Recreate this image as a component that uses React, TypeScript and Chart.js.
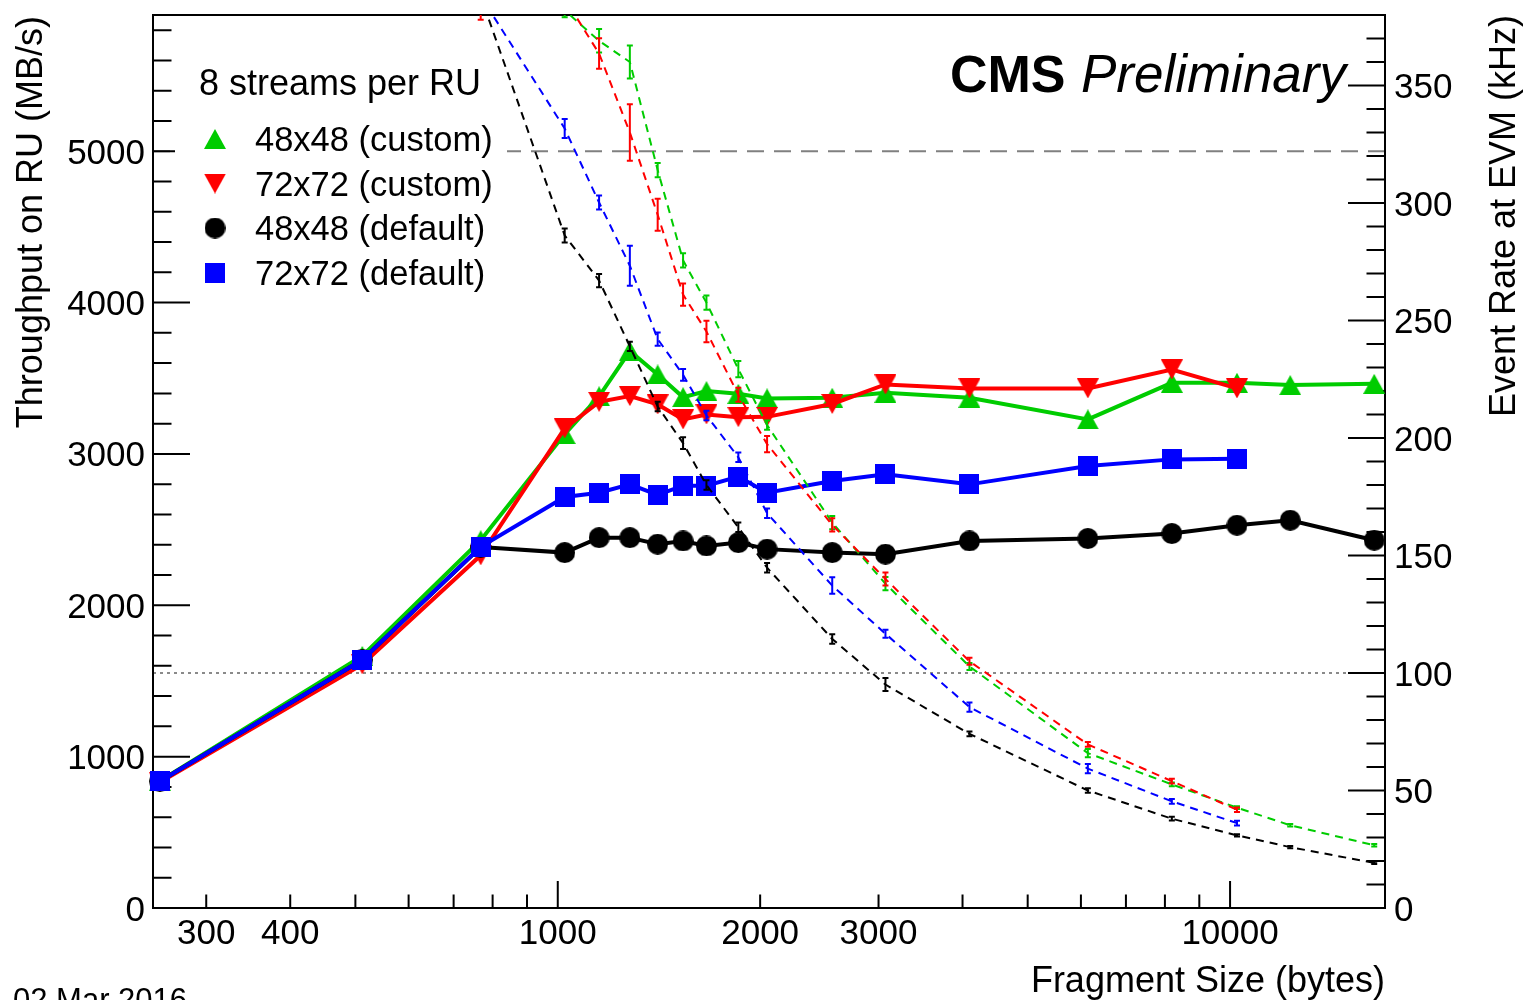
import React, { useEffect, useRef } from "react";
import { Chart, registerables } from "chart.js";

Chart.register(...registerables);

// ---------------- data ----------------
const fragmentSizes = [256, 512, 768, 1024, 1152, 1280, 1408, 1536, 1664, 1856, 2048, 2560, 3072, 4096, 6144, 8192, 10240, 12288, 16384];
const fragmentSizesShort = [256, 512, 768, 1024, 1152, 1280, 1408, 1536, 1664, 1856, 2048, 2560, 3072, 4096, 6144, 8192, 10240];

// throughput on RU (MB/s), left axis
const thr48Custom = [840, 1665, 2430, 3131, 3381, 3680, 3525, 3375, 3415, 3397, 3367, 3371, 3404, 3371, 3228, 3470, 3470, 3455, 3463];
const thr48CustomErr = [10, 15, 20, 15, 15, 25, 15, 15, 15, 20, 10, 15, 10, 10, 28, 20, 10, 10, 10];
const thr72Custom = [830, 1610, 2330, 3169, 3344, 3382, 3327, 3228, 3261, 3243, 3245, 3330, 3459, 3433, 3433, 3558, 3433];
const thr72CustomErr = [10, 15, 30, 15, 27, 42, 22, 20, 15, 15, 10, 12, 10, 10, 10, 10, 10];
const thr48Default = [838, 1640, 2385, 2348, 2447, 2447, 2404, 2425, 2392, 2414, 2371, 2348, 2338, 2425, 2441, 2474, 2529, 2562, 2430];
const thr48DefaultErr = [5, 10, 10, 10, 10, 10, 10, 10, 22, 10, 10, 10, 26, 10, 10, 10, 10, 10, 10];
const thr72Default = [838, 1640, 2386, 2716, 2744, 2799, 2729, 2790, 2790, 2850, 2744, 2821, 2865, 2799, 2920, 2964, 2968];
const thr72DefaultErr = [5, 10, 10, 10, 10, 31, 10, 10, 10, 10, 10, 20, 10, 10, 28, 10, 10];

// event rate at EVM (kHz), right axis
const rate48Custom = [409, 405, 394, 382, 369, 360, 314, 275.6, 257.6, 229.3, 205.5, 164, 138, 102.8, 65.9, 52.6, 42.7, 35.2, 26.7];
const rate48CustomErr = [3, 3, 3, 3, 5, 7, 3, 3, 3, 3.5, 2, 2.8, 2.8, 1.5, 1.8, 0.8, 0.6, 0.5, 0.5];
const rate72Custom = [405, 393, 382, 387, 363.6, 330, 295, 261, 245.3, 218.4, 197.4, 163, 140, 105, 69.6, 54.0, 41.8];
const rate72CustomErr = [3, 3, 4, 3, 6.5, 12, 6.8, 4.7, 4.6, 3, 3.5, 2.8, 2.8, 1.5, 1, 1, 1];
const rate48Default = [409, 400, 388, 286.2, 267, 239, 213.4, 197.8, 180, 162, 144.8, 114.5, 95.1, 74.1, 50.0, 38.0, 30.9, 25.9, 19.2];
const rate48DefaultErr = [2, 2, 2, 3, 2.8, 2, 2, 2.5, 2, 2, 2, 2, 2.8, 1, 1, 0.8, 0.5, 0.5, 0.5];
const rate72Default = [409, 400, 388, 331.7, 300.2, 273.3, 242.1, 226.9, 209.6, 191.8, 168, 137.2, 116.7, 85.5, 59.3, 45.4, 36.1];
const rate72DefaultErr = [2, 2, 2, 4, 3, 8.5, 2.8, 2.5, 2, 2, 2, 3.5, 1.7, 2, 2, 1, 1];

const legendTitle = "8 streams per RU";
const legendLabels = ["48x48 (custom)", "72x72 (custom)", "48x48 (default)", "72x72 (default)"];

const xTickLabels = [300, 400, 1000, 2000, 3000, 10000];
const xMajorTicks = [1000, 10000];
const xMinorTicks = [300, 400, 500, 600, 700, 800, 900, 2000, 3000, 4000, 5000, 6000, 7000, 8000, 9000];
const leftTickLabels = [0, 1000, 2000, 3000, 4000, 5000];
const rightTickLabels = [0, 50, 100, 150, 200, 250, 300, 350];

const xTitle = "Fragment Size (bytes)";
const yTitle = "Throughput on RU (MB/s)";
const y2Title = "Event Rate at EVM (kHz)";
const dateText = "02 Mar 2016";

const refThroughput = 5000; // dashed gray line (left axis)
const refRate = 100; // dotted gray line (right axis)

const GREEN = "#00cc00";
const RED = "#ff0000";
const BLACK = "#000000";
const BLUE = "#0000ff";
const FONT = '"Liberation Sans", Arial, Helvetica, sans-serif';

function range(a: number, b: number, step: number) {
  const out: number[] = [];
  for (let v = a; v <= b + 1e-9; v += step) out.push(v);
  return out;
}

function makeMarker(shape: string, color: string): HTMLCanvasElement {
  const c = document.createElement("canvas");
  let w = 22, h = 20;
  if (shape === "circle") { w = 21; h = 21; }
  if (shape === "square") { w = 20; h = 20; }
  c.width = w; c.height = h;
  const g = c.getContext("2d")!;
  g.fillStyle = color;
  g.beginPath();
  if (shape === "up") { g.moveTo(w / 2, 0); g.lineTo(w, h); g.lineTo(0, h); }
  else if (shape === "down") { g.moveTo(0, 0); g.lineTo(w, 0); g.lineTo(w / 2, h); }
  else if (shape === "circle") { g.arc(w / 2, h / 2, w / 2, 0, Math.PI * 2); }
  else { g.rect(0, 0, w, h); }
  g.closePath();
  g.fill();
  return c;
}

export default function App() {
  const ref = useRef<HTMLCanvasElement>(null);

  useEffect(() => {
    const canvas = ref.current!;
    const mk = {
      g: makeMarker("up", GREEN),
      r: makeMarker("down", RED),
      k: makeMarker("circle", BLACK),
      b: makeMarker("square", BLUE),
    };

    type Def = { sizes: number[]; values: number[]; errors: number[]; color: string; axis: string; kind: string; marker?: HTMLCanvasElement; order: number };
    const defs: Def[] = [
      { sizes: fragmentSizes, values: rate48Custom, errors: rate48CustomErr, color: GREEN, axis: "y2", kind: "rate", order: 3 },
      { sizes: fragmentSizesShort, values: rate72Custom, errors: rate72CustomErr, color: RED, axis: "y2", kind: "rate", order: 2 },
      { sizes: fragmentSizes, values: rate48Default, errors: rate48DefaultErr, color: BLACK, axis: "y2", kind: "rate", order: 1 },
      { sizes: fragmentSizesShort, values: rate72Default, errors: rate72DefaultErr, color: BLUE, axis: "y2", kind: "rate", order: 0 },
      { sizes: fragmentSizes, values: thr48Custom, errors: thr48CustomErr, color: GREEN, axis: "y", kind: "thr", marker: mk.g, order: 7 },
      { sizes: fragmentSizesShort, values: thr72Custom, errors: thr72CustomErr, color: RED, axis: "y", kind: "thr", marker: mk.r, order: 6 },
      { sizes: fragmentSizes, values: thr48Default, errors: thr48DefaultErr, color: BLACK, axis: "y", kind: "thr", marker: mk.k, order: 5 },
      { sizes: fragmentSizesShort, values: thr72Default, errors: thr72DefaultErr, color: BLUE, axis: "y", kind: "thr", marker: mk.b, order: 4 },
    ];

    const datasets = defs.map((d) => {
      const data = d.sizes.map((s, i) => ({ x: s, y: d.values[i] }));
      if (d.kind === "rate") {
        return {
          data, yAxisID: "y2", borderColor: d.color, borderWidth: 2, borderDash: [8, 6],
          pointRadius: 0, pointHoverRadius: 0, tension: 0, clip: 0, order: d.order, fill: false,
        };
      }
      return {
        data, yAxisID: "y", borderColor: d.color, backgroundColor: d.color, borderWidth: 4,
        pointStyle: d.marker, pointRadius: 11, pointHoverRadius: 11, tension: 0, clip: false as any,
        order: d.order, fill: false,
      };
    });

    const plugin = {
      id: "rootStyle",
      beforeDatasetsDraw(chart: any) {
        const { ctx, chartArea: a, scales } = chart;
        ctx.save();
        // reference lines
        ctx.strokeStyle = "#808080";
        ctx.lineWidth = 2;
        ctx.setLineDash([17, 10]);
        const yRef = scales.y.getPixelForValue(refThroughput);
        ctx.beginPath(); ctx.moveTo(a.left, yRef); ctx.lineTo(a.right, yRef); ctx.stroke();
        ctx.setLineDash([3, 4]);
        ctx.strokeStyle = "#8a8a8a";
        const yRate = scales.y2.getPixelForValue(refRate);
        ctx.beginPath(); ctx.moveTo(a.left, yRate); ctx.lineTo(a.right, yRate); ctx.stroke();
        ctx.setLineDash([]);

        // ticks
        ctx.strokeStyle = "#000";
        ctx.lineWidth = 2;
        ctx.beginPath();
        range(0, 5800, 200).forEach((v) => {
          const y = scales.y.getPixelForValue(v);
          const len = v % 1000 === 0 ? 37 : 18.5;
          ctx.moveTo(a.left, y); ctx.lineTo(a.left + len, y);
        });
        range(0, 370, 10).forEach((v) => {
          const y = scales.y2.getPixelForValue(v);
          const len = v % 50 === 0 ? 37 : 18.5;
          ctx.moveTo(a.right, y); ctx.lineTo(a.right - len, y);
        });
        xMinorTicks.forEach((v) => {
          const x = scales.x.getPixelForValue(v);
          ctx.moveTo(x, a.bottom); ctx.lineTo(x, a.bottom - 13.5);
        });
        xMajorTicks.forEach((v) => {
          const x = scales.x.getPixelForValue(v);
          ctx.moveTo(x, a.bottom); ctx.lineTo(x, a.bottom - 27);
        });
        ctx.stroke();
        // frame
        ctx.strokeRect(a.left, a.top, a.right - a.left, a.bottom - a.top);

        // tick labels
        ctx.fillStyle = "#000";
        ctx.font = `35px ${FONT}`;
        ctx.textBaseline = "alphabetic";
        ctx.textAlign = "right";
        leftTickLabels.forEach((v) => {
          ctx.fillText(String(v), 145, scales.y.getPixelForValue(v) + 12.5);
        });
        ctx.textAlign = "left";
        rightTickLabels.forEach((v) => {
          ctx.fillText(String(v), 1394, scales.y2.getPixelForValue(v) + 12.5);
        });
        ctx.textAlign = "center";
        xTickLabels.forEach((v) => {
          ctx.fillText(String(v), scales.x.getPixelForValue(v), 944);
        });

        // axis titles
        ctx.font = `36px ${FONT}`;
        ctx.textAlign = "right";
        ctx.fillText(xTitle, a.right, 992);
        ctx.save();
        ctx.translate(42, a.top + 1);
        ctx.rotate(-Math.PI / 2);
        ctx.textAlign = "right";
        ctx.fillText(yTitle, 0, 0);
        ctx.restore();
        ctx.save();
        ctx.translate(1515, a.top);
        ctx.rotate(-Math.PI / 2);
        ctx.textAlign = "right";
        ctx.fillText(y2Title, 0, 0);
        ctx.restore();

        // date
        ctx.font = `31px ${FONT}`;
        ctx.textAlign = "left";
        ctx.fillText(dateText, 13, 1010);

        // CMS Preliminary
        ctx.font = `bold 52px ${FONT}`;
        ctx.textAlign = "left";
        ctx.fillText("CMS", 950, 92);
        ctx.font = `italic 53px ${FONT}`;
        ctx.textAlign = "right";
        ctx.fillText("Preliminary", 1346, 92);

        // legend
        ctx.fillStyle = "#fff";
        ctx.fillRect(175, 52, 332, 246);
        ctx.fillStyle = "#000";
        ctx.font = `36px ${FONT}`;
        ctx.textAlign = "left";
        ctx.fillText(legendTitle, 199, 95);
        ctx.font = `34.5px ${FONT}`;
        const rows = [139, 183.5, 228, 273];
        const ms = [mk.g, mk.r, mk.k, mk.b];
        legendLabels.forEach((lab, i) => {
          const m = ms[i];
          ctx.drawImage(m, 215 - m.width / 2, rows[i] - m.height / 2);
          ctx.fillText(lab, 255, rows[i] + 12);
        });
        ctx.restore();
      },
      beforeDatasetDraw(chart: any, args: any) {
        const d = defs[args.index];
        if (!d) return;
        const { ctx, chartArea: a } = chart;
        const scale = chart.scales[d.axis];
        ctx.save();
        if (d.kind === "rate") {
          ctx.beginPath();
          ctx.rect(a.left, a.top, a.right - a.left, a.bottom - a.top);
          ctx.clip();
        }
        ctx.strokeStyle = d.color;
        ctx.lineWidth = d.kind === "rate" ? 2 : 4;
        ctx.setLineDash([]);
        ctx.beginPath();
        args.meta.data.forEach((pt: any, i: number) => {
          const v = d.values[i], e = d.errors[i];
          const yHi = scale.getPixelForValue(v + e);
          const yLo = scale.getPixelForValue(v - e);
          const x = pt.x;
          ctx.moveTo(x, yHi); ctx.lineTo(x, yLo);
          if (d.kind === "rate") {
            ctx.moveTo(x - 3, yHi); ctx.lineTo(x + 3, yHi);
            ctx.moveTo(x - 3, yLo); ctx.lineTo(x + 3, yLo);
          }
        });
        ctx.stroke();
        ctx.restore();
      },
    };

    const chart = new Chart(canvas, {
      type: "line",
      data: { datasets: datasets as any },
      options: {
        responsive: false,
        animation: false,
        devicePixelRatio: 1,
        events: [],
        layout: { padding: { left: 153, right: 141, top: 14, bottom: 92 } },
        plugins: { legend: { display: false }, tooltip: { enabled: false } },
        scales: {
          x: { type: "logarithmic", min: 250, max: 17000, display: false },
          y: { type: "linear", min: 0, max: 5900, display: false },
          y2: { type: "linear", min: 0, max: 380, display: false },
        },
      } as any,
      plugins: [plugin],
    });
    return () => chart.destroy();
  }, []);

  return (
    <canvas
      ref={ref}
      width={1526}
      height={1000}
      style={{ position: "fixed", left: 0, top: 0, width: 1526, height: 1000, display: "block", background: "#fff" }}
    />
  );
}
